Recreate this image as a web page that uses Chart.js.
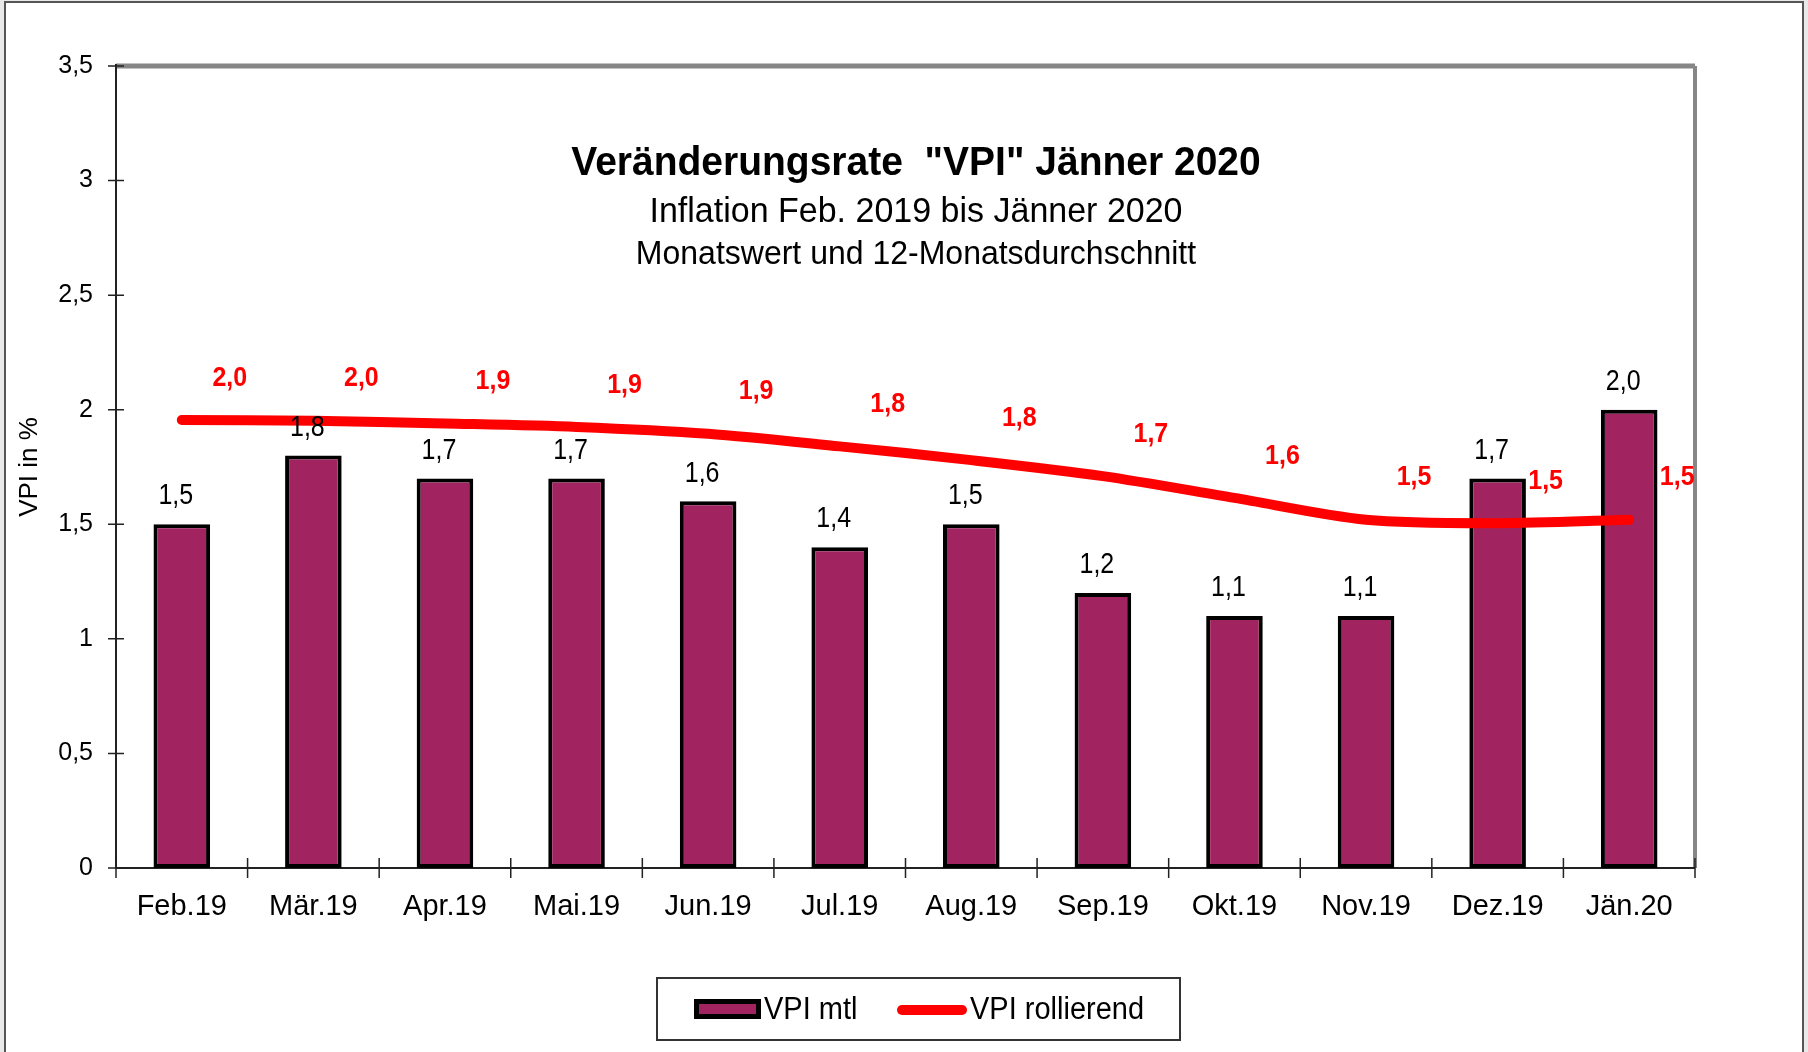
<!DOCTYPE html>
<html>
<head>
<meta charset="utf-8">
<script src="https://cdn.jsdelivr.net/npm/chart.js@4.4.0/dist/chart.umd.min.js"></script>
<style>
  html, body { margin: 0; padding: 0; background: #e9e9e9; }
  #wrap { width: 1808px; height: 1052px; }
</style>
</head>
<body>
<div id="wrap"><canvas id="myChart" width="1808" height="1052"></canvas></div>
<script>
// Werte
const months = ['Feb.19', 'Mär.19', 'Apr.19', 'Mai.19', 'Jun.19', 'Jul.19',
                'Aug.19', 'Sep.19', 'Okt.19', 'Nov.19', 'Dez.19', 'Jän.20'];
const vpiMonthly = [1.5, 1.8, 1.7, 1.7, 1.6, 1.4, 1.5, 1.2, 1.1, 1.1, 1.7, 2.0];
const vpiRolling = [1.955, 1.952, 1.94, 1.925, 1.895, 1.84, 1.78, 1.71, 1.615, 1.52, 1.505, 1.52];
const yTicks = [0, 0.5, 1, 1.5, 2, 2.5, 3, 3.5];

const titleLines = [
    'Veränderungsrate  "VPI" Jänner 2020',
    'Inflation Feb. 2019 bis Jänner 2020',
    'Monatswert und 12-Monatsdurchschnitt'
];

const FONT = "'Liberation Sans', Arial, sans-serif";
const BAR_COLOR = '#A12460';
const LINE_COLOR = '#FF0000';

const fmt = v => (Math.round(v * 10) / 10).toFixed(1).replace('.', ',');

// Text leicht hochgezogen wie im Original
function tallText(ctx, text, x, y, sy) {
    ctx.save();
    ctx.translate(x, y);
    ctx.scale(1, sy);
    ctx.fillText(text, 0, 0);
    ctx.restore();
}

// Rahmen, Achsen und Tickmarken im Excel-Stil
const framePlugin = {
    id: 'frame',
    beforeDraw(chart) {
        const ctx = chart.ctx;
        ctx.save();
        ctx.fillStyle = '#e9e9e9';
        ctx.fillRect(0, 0, chart.width, chart.height);
        ctx.fillStyle = '#fff';
        ctx.fillRect(5, 2, chart.width - 10, chart.height);
        ctx.strokeStyle = '#555';
        ctx.lineWidth = 2;
        ctx.strokeRect(5, 2, chart.width - 10, chart.height + 10);
        ctx.restore();
    },
    beforeDatasetsDraw(chart) {
        const {ctx, chartArea: a, scales} = chart;
        ctx.save();
        // oberer und rechter Rand grau
        ctx.strokeStyle = '#868686';
        ctx.lineWidth = 5;
        ctx.beginPath();
        ctx.moveTo(a.left, a.top);
        ctx.lineTo(a.right, a.top);
        ctx.stroke();
        ctx.lineWidth = 4;
        ctx.beginPath();
        ctx.moveTo(a.right, a.top);
        ctx.lineTo(a.right, a.bottom);
        ctx.stroke();
        // Achsen schwarz
        ctx.strokeStyle = '#222';
        ctx.lineWidth = 2;
        ctx.beginPath();
        ctx.moveTo(a.left, a.top - 2);
        ctx.lineTo(a.left, a.bottom);
        ctx.lineTo(a.right, a.bottom);
        ctx.stroke();
        // Tickmarken (kreuzend)
        ctx.lineWidth = 1.5;
        ctx.beginPath();
        yTicks.forEach(v => {
            const y = scales.y.getPixelForValue(v);
            ctx.moveTo(a.left - 8, y);
            ctx.lineTo(a.left + 8, y);
        });
        const step = (a.right - a.left) / months.length;
        for (let i = 0; i <= months.length; i++) {
            const x = a.left + i * step;
            ctx.moveTo(x, a.bottom - 10);
            ctx.lineTo(x, a.bottom + 10);
        }
        ctx.stroke();
        ctx.restore();
    },
    afterDatasetsDraw(chart) {
        const ctx = chart.ctx;
        ctx.save();
        ctx.textAlign = 'center';
        ctx.textBaseline = 'middle';
        // Balkenbeschriftung
        ctx.fillStyle = '#000';
        ctx.font = '25px ' + FONT;
        chart.getDatasetMeta(1).data.forEach((el, i) => {
            tallText(ctx, fmt(vpiMonthly[i]), el.x - 6, el.y - 28, 1.18);
        });
        // Linienbeschriftung
        ctx.fillStyle = LINE_COLOR;
        ctx.font = 'bold 25px ' + FONT;
        chart.getDatasetMeta(0).data.forEach((el, i) => {
            tallText(ctx, fmt(vpiRolling[i]), el.x + 48, el.y - 42, 1.12);
        });
        ctx.restore();
    },
    afterDraw(chart) {
        const ctx = chart.ctx;
        ctx.save();
        // Titel im Diagrammbereich
        ctx.textAlign = 'center';
        ctx.textBaseline = 'middle';
        ctx.fillStyle = '#000';
        const cx = 916;
        ctx.font = 'bold 39px ' + FONT;
        tallText(ctx, titleLines[0], cx, 164, 1.05);
        ctx.font = '34px ' + FONT;
        tallText(ctx, titleLines[1], cx, 212, 1.05);
        ctx.font = '32px ' + FONT;
        tallText(ctx, titleLines[2], cx, 255, 1.05);

        // Legende
        ctx.strokeStyle = '#333';
        ctx.lineWidth = 2;
        ctx.strokeRect(657, 978, 523, 62);
        ctx.fillStyle = BAR_COLOR;
        ctx.fillRect(694, 999, 67, 20);
        ctx.strokeStyle = '#000';
        ctx.lineWidth = 5;
        ctx.strokeRect(696.5, 1001.5, 62, 15);
        ctx.strokeStyle = LINE_COLOR;
        ctx.lineWidth = 10;
        ctx.lineCap = 'round';
        ctx.beginPath();
        ctx.moveTo(902, 1010);
        ctx.lineTo(962, 1010);
        ctx.stroke();
        ctx.fillStyle = '#000';
        ctx.textAlign = 'left';
        ctx.font = '29px ' + FONT;
        tallText(ctx, chart.data.datasets[1].label, 764, 1010, 1.1);
        tallText(ctx, chart.data.datasets[0].label, 970, 1010, 1.1);
        ctx.restore();
    }
};

const data = {
    labels: months,
    datasets: [{
        type: 'line',
        label: 'VPI rollierend',
        data: vpiRolling,
        borderColor: LINE_COLOR,
        borderWidth: 10,
        borderCapStyle: 'round',
        borderJoinStyle: 'round',
        tension: 0.3,
        pointRadius: 0,
        order: 0
    }, {
        type: 'bar',
        label: 'VPI mtl',
        data: vpiMonthly,
        backgroundColor: BAR_COLOR,
        borderColor: '#000',
        borderWidth: 4,
        borderSkipped: false,
        barPercentage: 0.43,
        categoryPercentage: 1,
        order: 1
    }]
};

const config = {
    type: 'bar',
    data: data,
    options: {
        responsive: false,
        animation: false,
        devicePixelRatio: 1,
        layout: { padding: { left: 0, right: 113, top: 66, bottom: 0 } },
        plugins: {
            legend: { display: false },
            title: { display: false },
            tooltip: { enabled: false }
        },
        scales: {
            x: {
                offset: true,
                grid: { display: false, drawTicks: false },
                border: { display: false },
                ticks: {
                    color: '#000',
                    font: { family: FONT, size: 29 },
                    padding: 22,
                    maxRotation: 0,
                    autoSkip: false
                },
                afterFit: s => { s.height = 184; }
            },
            y: {
                min: 0,
                max: 3.5,
                grid: { display: false, drawTicks: false },
                border: { display: false },
                afterBuildTicks: s => { s.ticks = yTicks.map(v => ({ value: v })); },
                ticks: {
                    color: '#000',
                    font: { family: FONT, size: 25 },
                    padding: 23,
                    callback: v => String(v).replace('.', ',')
                },
                title: {
                    display: true,
                    text: 'VPI in %',
                    color: '#000',
                    font: { family: FONT, size: 26 },
                    padding: { top: 14, bottom: 0 }
                },
                afterFit: s => { s.width = 116; }
            }
        }
    },
    plugins: [framePlugin]
};

const ctx = document.getElementById('myChart').getContext('2d');
const myChart = new Chart(ctx, config);
</script>
</body>
</html>
